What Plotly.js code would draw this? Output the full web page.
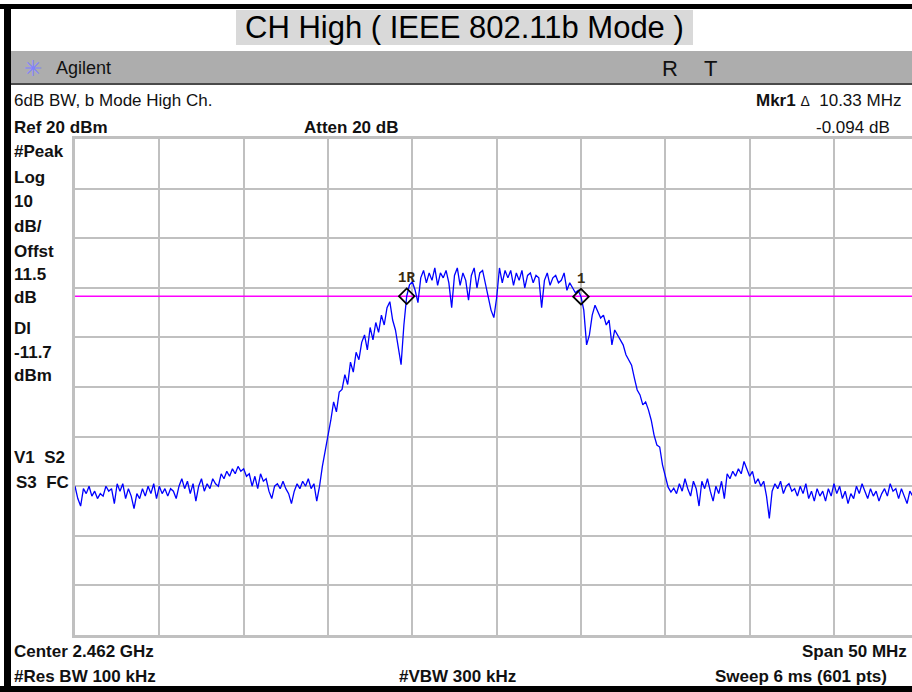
<!DOCTYPE html>
<html>
<head>
<meta charset="utf-8">
<script src="https://cdn.plot.ly/plotly-3.0.1.min.js"></script>
<style>
  html, body { margin: 0; padding: 0; background: #ffffff; overflow: hidden; }
  #chart { width: 912px; height: 692px; }
</style>
</head>
<body>
<div id="chart"></div>
<script>
// ---------------- data ----------------
const CENTER_MHZ = 2462;      // Center 2.462 GHz
const SPAN_MHZ = 50;          // Span 50 MHz
const REF_LEVEL = 20;         // Ref 20 dBm
const DB_PER_DIV = 10;
const DISPLAY_LINE = -11.7;   // Dl -11.7 dBm

// trace levels (dBm), evenly spaced across the span
const traceLevels = [
  -50.0,-52.5,-54.0,-50.5,-51.5,-50.0,-52.0,-51.0,-52.5,-51.5,
  -52.0,-50.0,-51.0,-50.5,-53.5,-49.5,-51.0,-49.5,-52.5,-50.5,
  -52.0,-54.5,-51.5,-52.5,-50.5,-52.0,-50.0,-51.5,-49.5,-52.5,
  -50.0,-51.5,-50.5,-52.0,-50.5,-51.0,-52.5,-50.0,-48.5,-50.5,
  -49.0,-51.5,-49.5,-53.0,-50.0,-48.5,-51.0,-49.5,-50.5,-48.5,
  -49.5,-50.0,-47.5,-48.5,-47.0,-48.0,-46.5,-47.5,-46.0,-47.0,
  -46.5,-48.0,-47.5,-50.0,-48.0,-50.5,-47.5,-49.0,-48.5,-51.0,
  -52.5,-50.0,-49.5,-50.5,-49.0,-50.5,-51.5,-53.5,-51.0,-49.5,
  -50.5,-49.0,-50.0,-48.5,-50.5,-49.5,-53.0,-50.0,-46.0,-43.0,
  -39.7,-36.7,-33.0,-35.0,-31.0,-30.5,-27.5,-29.5,-25.0,-27.0,
  -23.0,-24.5,-21.0,-19.5,-22.5,-18.0,-20.5,-17.0,-19.0,-15.5,
  -17.5,-14.0,-12.8,-16.5,-18.5,-22.0,-25.5,-17.5,-11.7,-9.4,
  -8.8,-10.5,-13.0,-8.0,-6.5,-9.0,-7.0,-8.5,-6.0,-9.5,
  -7.0,-8.0,-6.5,-9.0,-14.0,-7.5,-6.0,-9.5,-7.0,-8.5,
  -12.5,-7.5,-6.0,-10.0,-7.0,-6.5,-9.0,-12.0,-14.5,-16.0,
  -12.0,-6.0,-9.0,-6.5,-8.0,-6.5,-9.5,-7.0,-8.5,-6.5,
  -10.0,-7.5,-7.0,-9.0,-7.5,-8.0,-14.0,-8.5,-7.0,-9.5,
  -8.0,-7.5,-9.0,-8.5,-7.0,-10.5,-9.0,-10.0,-11.0,-10.5,
  -11.8,-14.5,-21.5,-19.5,-15.5,-13.5,-14.9,-16.1,-15.5,-17.5,
  -16.5,-21.5,-18.5,-19.5,-20.5,-21.5,-23.5,-24.6,-25.6,-28.2,
  -30.6,-31.6,-33.6,-33.0,-34.6,-36.7,-39.7,-41.7,-42.1,-45.7,
  -48.3,-50.2,-51.2,-50.4,-51.5,-49.5,-51.0,-48.5,-50.5,-52.0,
  -49.0,-50.5,-54.0,-49.0,-50.5,-48.5,-51.0,-53.0,-50.0,-51.5,
  -49.0,-52.5,-47.5,-48.5,-47.0,-48.0,-46.5,-47.5,-45.0,-46.5,
  -48.0,-47.0,-49.5,-48.5,-50.0,-49.0,-52.0,-56.5,-51.0,-49.5,
  -50.5,-49.0,-51.5,-50.0,-49.5,-51.0,-50.5,-52.0,-50.0,-51.5,
  -49.5,-52.5,-51.0,-53.0,-50.5,-52.0,-51.0,-53.0,-50.5,-52.0,
  -49.5,-51.5,-50.0,-52.5,-51.0,-53.5,-51.5,-52.5,-50.0,-51.5,
  -49.5,-51.0,-52.5,-50.5,-52.0,-51.0,-53.0,-51.5,-50.5,-52.0,
  -49.5,-51.0,-50.5,-52.5,-50.5,-52.0,-53.5,-51.0,-52.0,-51.5,
  -52.0
];

// markers
const markerFreqs = [2456.67, 2467.00];
const markerLevels = [-11.70, -11.79];
const markerLabels = ['1R', '1'];

// ---------------- geometry ----------------
const W = 912, H = 692;
const ML = 75, MR = 0, MT = 139, MB = 57;
const PW = W - ML - MR, PH = H - MT - MB;
const FULL_W = 843.3;              // full 10-division graticule width in px
const startF = CENTER_MHZ - SPAN_MHZ / 2;
const visibleSpan = SPAN_MHZ * PW / FULL_W;

const px = x => (x - ML) / PW;
const py = y => (H - MB - y) / PH;

const n = traceLevels.length;
const freqs = traceLevels.map((_, i) => startF + i * SPAN_MHZ / (n - 1));

const FONT = 'Liberation Sans, Arial, sans-serif';
const TXT = '#111111';

const traces = [
  {
    x: [startF, startF + SPAN_MHZ], y: [DISPLAY_LINE, DISPLAY_LINE],
    mode: 'lines', line: { color: '#ff00ff', width: 1.5 }, hoverinfo: 'skip'
  },
  {
    x: freqs, y: traceLevels, mode: 'lines',
    line: { color: '#0000ff', width: 1.3 }, hoverinfo: 'skip'
  },
  {
    x: markerFreqs, y: markerLevels, mode: 'markers',
    marker: { symbol: 'diamond-open', size: 12, color: '#000000', line: { width: 1.8, color: '#000000' } },
    hoverinfo: 'skip', cliponaxis: false
  }
];

function rect(x0, y0, x1, y1, color) {
  return { type: 'rect', xref: 'paper', yref: 'paper', x0: px(x0), x1: px(x1), y0: py(y1), y1: py(y0),
           fillcolor: color, line: { width: 0 }, layer: 'above' };
}

const shapes = [
  rect(236, 10, 693, 45, '#d9d9d9'),
  rect(11, 51, 912, 83, '#adadad'),
  rect(11, 83, 912, 85, '#4a4a4a'),
  rect(0, 4, 912, 9, '#000000'),
  rect(4, 4, 11, 692, '#000000'),
  rect(0, 686, 912, 692, '#000000')
];

function ann(text, x, y, anchor, size, opts) {
  return Object.assign({
    text: text, xref: 'paper', yref: 'paper', x: px(x), y: py(y),
    xanchor: anchor, yanchor: 'middle', showarrow: false,
    font: { family: FONT, size: size, color: TXT }
  }, opts || {});
}

const B = s => '<b>' + s + '</b>';
const NB = '\u00a0';

// marker labels placed above each marker via data coordinates
const markerAnns = markerLabels.map((t, i) => ({
  text: '<b>' + t + '</b>', xref: 'x', yref: 'y', x: markerFreqs[i], y: markerLevels[i],
  xanchor: 'center', yanchor: 'bottom', yshift: 8, showarrow: false,
  font: { family: 'Liberation Mono, DejaVu Sans Mono, monospace', size: 14, color: '#3a2a10' }
}));

const annotations = [
  ann('CH High ( IEEE 802.11b Mode )', 464, 28, 'center', 31, { font: { family: FONT, size: 31, color: '#000000' } }),
  ann('\u2733', 33, 68, 'center', 22, { font: { family: 'DejaVu Sans', size: 22, color: '#8080ff' } }),
  ann('Agilent', 54, 68, 'left', 18),
  ann('R', 670, 68, 'center', 22),
  ann('T', 710, 68, 'center', 22),
  ann('6dB BW, b Mode High Ch.', 12, 101, 'left', 17),
  ann(B('Mkr1') + NB + '<span style="font-size:14px">Δ</span>' + NB + NB + '10.33 MHz', 903, 101, 'right', 17),
  ann(B('Ref 20 dBm'), 12, 127, 'left', 17),
  ann(B('Atten 20 dB'), 302, 127, 'left', 17),
  ann('-0.094 dB', 892, 127, 'right', 17),
  ann(B('#Peak'), 12, 151, 'left', 17),
  ann(B('Log'), 12, 177, 'left', 17),
  ann(B('10'), 12, 201, 'left', 17),
  ann(B('dB/'), 12, 226, 'left', 17),
  ann(B('Offst'), 12, 251, 'left', 17),
  ann(B('11.5'), 12, 274, 'left', 17),
  ann(B('dB'), 12, 297, 'left', 17),
  ann(B('Dl'), 12, 328, 'left', 17),
  ann(B('-11.7'), 12, 352, 'left', 17),
  ann(B('dBm'), 12, 375, 'left', 17),
  ann(B('V1' + NB + NB + 'S2'), 12, 458, 'left', 17),
  ann(B('S3' + NB + NB + 'FC'), 14, 482, 'left', 17),
  ann(B('Center 2.462 GHz'), 12, 651, 'left', 17),
  ann(B('Span 50 MHz'), 909, 651, 'right', 17),
  ann(B('#Res BW 100 kHz'), 12, 676, 'left', 17),
  ann(B('#VBW 300 kHz'), 397, 676, 'left', 17),
  ann(B('Sweep 6 ms (601 pts)'), 889, 676, 'right', 17)
].concat(markerAnns);

const axisCommon = {
  showgrid: true, gridcolor: '#c0c0c0', gridwidth: 2,
  showline: true, linecolor: '#c0c0c0', linewidth: 3,
  zeroline: false, showticklabels: false, ticks: '', fixedrange: true
};

const layout = {
  width: W, height: H,
  margin: { l: ML, r: MR, t: MT, b: MB, pad: 0 },
  paper_bgcolor: '#ffffff', plot_bgcolor: '#ffffff',
  showlegend: false,
  xaxis: Object.assign({}, axisCommon, {
    range: [startF, startF + visibleSpan], tick0: startF, dtick: SPAN_MHZ / 10, mirror: true
  }),
  yaxis: Object.assign({}, axisCommon, {
    range: [REF_LEVEL - 10 * DB_PER_DIV, REF_LEVEL], tick0: REF_LEVEL, dtick: DB_PER_DIV
  }),
  shapes: shapes,
  annotations: annotations
};

Plotly.newPlot('chart', traces, layout, { staticPlot: true, displayModeBar: false });
</script>
</body>
</html>
